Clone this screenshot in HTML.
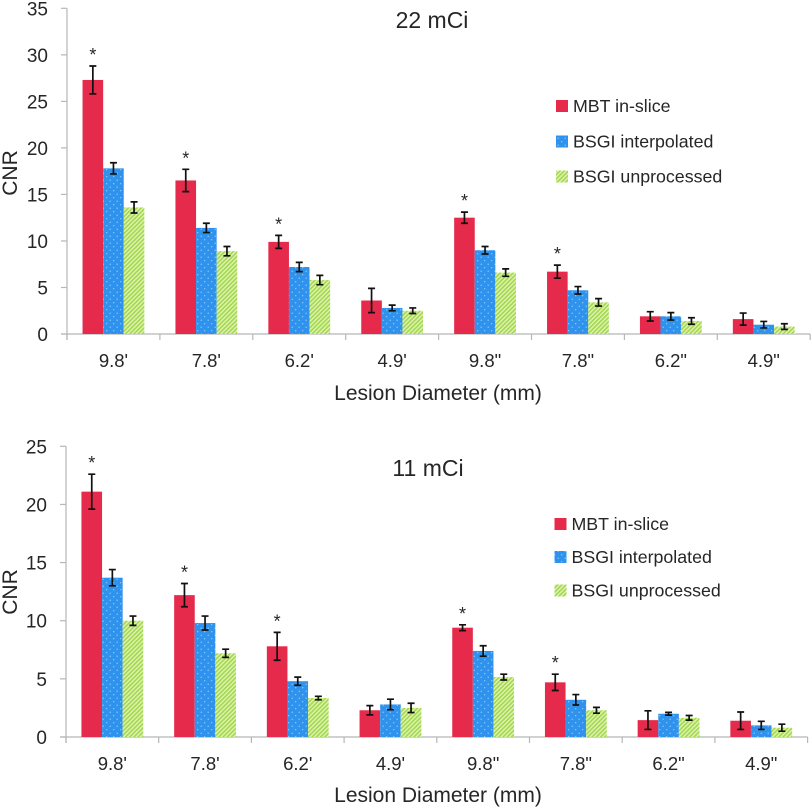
<!DOCTYPE html>
<html lang="en">
<head>
<meta charset="utf-8">
<title>CNR by lesion diameter</title>
<style>
html,body{margin:0;padding:0;background:#fff;width:812px;height:807px;overflow:hidden}
svg{display:block;font-family:"Liberation Sans","DejaVu Sans",sans-serif;fill:#262626}
</style>
</head>
<body>
<svg id="chart" width="812" height="807" viewBox="0 0 812 807" xmlns="http://www.w3.org/2000/svg">
<defs>
<pattern id="dots" width="7" height="7" patternUnits="userSpaceOnUse">
<rect width="7" height="7" fill="#2f93ee"/>
<circle cx="1.7" cy="1.7" r=".6" fill="#a9d6fb"/>
<circle cx="5.2" cy="5.2" r=".6" fill="#a9d6fb"/>
</pattern>
<pattern id="hatch" width="3" height="3" patternUnits="userSpaceOnUse" patternTransform="rotate(45)">
<rect width="3" height="3" fill="#e4f5b8"/>
<rect width="1.7" height="3" fill="#a3d850"/>
</pattern>
</defs>
</svg>
<script>
var categories = ["9.8'", "7.8'", "6.2'", "4.9'", '9.8"', '7.8"', '6.2"', '4.9"'];
var seriesNames = ["MBT in-slice", "BSGI interpolated", "BSGI unprocessed"];
var starredGroups = [0, 1, 2, 4, 5];

var ticks22 = [0, 5, 10, 15, 20, 25, 30, 35];
var mbt22 = [27.3, 16.5, 9.9, 3.6, 12.5, 6.7, 1.9, 1.6];
var mbt22Err = [1.5, 1.2, 0.7, 1.3, 0.6, 0.7, 0.5, 0.65];
var interp22 = [17.8, 11.4, 7.2, 2.8, 9.0, 4.7, 1.9, 1.0];
var interp22Err = [0.6, 0.5, 0.5, 0.3, 0.4, 0.4, 0.4, 0.35];
var unproc22 = [13.6, 8.9, 5.8, 2.5, 6.6, 3.4, 1.4, 0.8];
var unproc22Err = [0.6, 0.5, 0.5, 0.3, 0.4, 0.4, 0.35, 0.3];

var ticks11 = [0, 5, 10, 15, 20, 25];
var mbt11 = [21.1, 12.2, 7.8, 2.3, 9.4, 4.7, 1.45, 1.4];
var mbt11Err = [1.5, 1.0, 1.2, 0.4, 0.25, 0.7, 0.8, 0.75];
var interp11 = [13.7, 9.8, 4.8, 2.8, 7.4, 3.2, 2.0, 1.0];
var interp11Err = [0.7, 0.6, 0.35, 0.45, 0.45, 0.45, 0.12, 0.35];
var unproc11 = [10.0, 7.2, 3.35, 2.5, 5.15, 2.3, 1.65, 0.8];
var unproc11Err = [0.4, 0.35, 0.15, 0.4, 0.25, 0.25, 0.2, 0.3];

var svg = document.getElementById('chart');
var NS = 'http://www.w3.org/2000/svg';
var fills = ['#e52a4b', 'url(#dots)', 'url(#hatch)'];
var seriesKeys = ['mbt', 'interpolated', 'unprocessed'];

function make(parent, tag, attrs, text) {
  var el = document.createElementNS(NS, tag);
  for (var k in attrs) el.setAttribute(k, attrs[k]);
  if (text !== undefined) el.textContent = text;
  parent.appendChild(el);
  return el;
}

function drawPanel(p) {
  var g = make(svg, 'g', {});
  
  
  var maxTick = p.ticks[p.ticks.length - 1];
  function yOf(v) { return p.y0 - (p.y0 - p.yTop) * v / maxTick; }
  var groupW = p.groupW;
  function xOf(i) { return p.x0 + groupW * i; }
  var barW = 20.6;

  var yAxis = make(g, 'line', {x1: p.x0, x2: p.x0, y1: p.yTop, y2: p.y0 + 6, stroke: '#b4b8b8', 'stroke-width': 1.2});
  
  
  var xAxis = make(g, 'line', {x1: p.x0 - 6, x2: xOf(categories.length), y1: p.y0, y2: p.y0, stroke: '#b4b8b8', 'stroke-width': 1.2});
  
  

  p.ticks.forEach(function (t) {
    var y = yOf(t);
    var tick = make(g, 'line', {x1: p.x0 - 6, x2: p.x0, y1: y, y2: y, stroke: '#b4b8b8', 'stroke-width': 1.2});
    
    
    var lab = make(g, 'text', {x: p.x0 - 19, y: y + 7, 'text-anchor': 'end', 'font-size': 19}, String(t));
    
    
  });

  for (var c = 0; c <= categories.length; c++) {
    var xt = make(g, 'line', {x1: xOf(c), x2: xOf(c), y1: p.y0, y2: p.y0 + 6, stroke: '#b4b8b8', 'stroke-width': 1.2});
    
    
  }

  categories.forEach(function (cat, i) {
    var cx = xOf(i) + groupW / 2;
    var lab = make(g, 'text', {x: cx, y: p.y0 + 33, 'text-anchor': 'middle', 'font-size': 18.5}, cat);
    
    

    p.series.forEach(function (s, si) {
      var left = cx - barW * 1.5 + barW * si;
      var top = yOf(s[i]);
      var bar = make(g, 'rect', {x: left, y: top, width: barW, height: p.y0 - top, fill: fills[si]});
      
      
    });

    p.series.forEach(function (s, si) {
      var mid = cx - barW * 1.5 + barW * si + barW / 2;
      var e = p.errors[si][i];
      var hi = yOf(s[i] + e), lo = yOf(s[i] - e);
      var err = make(g, 'path', {
        d: 'M' + (mid - 3.5) + ' ' + hi + 'H' + (mid + 3.5) + 'M' + mid + ' ' + hi + 'V' + lo + 'M' + (mid - 3.5) + ' ' + lo + 'H' + (mid + 3.5),
        fill: 'none', stroke: '#111', 'stroke-width': 1.7
      });
      
      
    });

    if (starredGroups.indexOf(i) >= 0) {
      var mx = cx - barW;
      var topVal = p.series[0][i] + p.errors[0][i];
      var star = make(g, 'text', {x: mx, y: yOf(topVal) - 5, 'text-anchor': 'middle', 'font-size': 18}, '*');
      
      
    }
  });

  var title = make(g, 'text', {x: p.titleX, y: p.titleY, 'text-anchor': 'middle', 'font-size': 23}, p.title);
  
  

  var xTitle = make(g, 'text', {x: 438, y: p.xTitleY, 'text-anchor': 'middle', 'font-size': 21}, 'Lesion Diameter (mm)');
  
  

  var yTitle = make(g, 'text', {x: 0, y: 0, 'text-anchor': 'middle', 'font-size': 21, transform: 'translate(17 ' + p.yTitleY + ') rotate(-90)'}, 'CNR');
  
  

  seriesNames.forEach(function (name, si) {
    var ly = p.legendY[si];
    var entry = make(g, 'g', {});
    
    
    make(entry, 'rect', {x: p.legendX, y: ly, width: 12, height: 12, fill: fills[si]});
    make(entry, 'text', {x: p.legendX + 17, y: ly + 12, 'font-size': 17.8}, name);
  });
}

drawPanel({
  key: '22-mci', title: '22 mCi', titleX: 432, titleY: 28, xTitleY: 400, yTitleY: 173,
  x0: 67, groupW: 92.9, y0: 334, yTop: 8.3, ticks: ticks22,
  series: [mbt22, interp22, unproc22], errors: [mbt22Err, interp22Err, unproc22Err],
  legendX: 556, legendY: [100, 135.5, 170.5]
});
drawPanel({
  key: '11-mci', title: '11 mCi', titleX: 428, titleY: 476, xTitleY: 802, yTitleY: 592,
  x0: 66, groupW: 92.7, y0: 737, yTop: 446.3, ticks: ticks11,
  series: [mbt11, interp11, unproc11], errors: [mbt11Err, interp11Err, unproc11Err],
  legendX: 554.5, legendY: [518, 551, 584.5]
});
</script>
</body>
</html>
